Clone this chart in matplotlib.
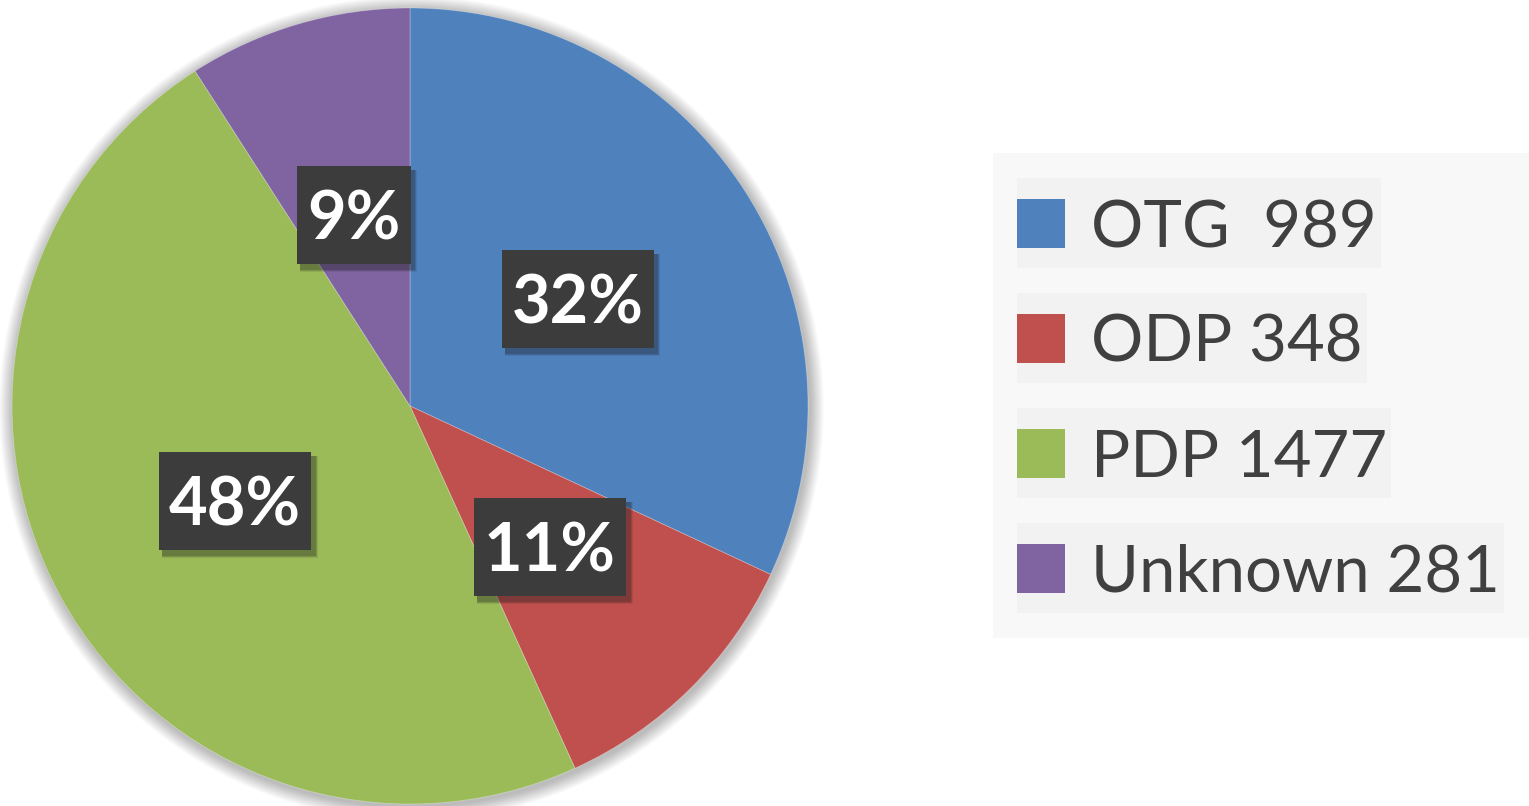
import matplotlib
matplotlib.use("Agg")
import matplotlib.pyplot as plt
from matplotlib.patches import Rectangle, Circle
from matplotlib.transforms import IdentityTransform

labels = ["OTG ", "ODP", "PDP", "Unknown"]
values = [989, 348, 1477, 281]
colors = ["#4F81BD", "#C0504D", "#9BBB59", "#8064A2"]

W, H = 1529, 806
fig = plt.figure(figsize=(W / 100, H / 100), dpi=100)
fig.patch.set_facecolor("white")
FONT = ["Lato", "DejaVu Sans"]

def fx(x):
    return x / W

def fy(y):
    return 1 - y / H

# pie axes: centre (410, 406), radius 398 px
cx, cy, r = 410, 406, 398
ax = fig.add_axes([fx(cx - r - 20), fy(cy + r + 20), (2 * r + 40) / W, (2 * r + 40) / H])
lim = 1 + 20 / r

# soft glow shadow behind the pie
for k in range(14, 0, -1):
    ax.add_patch(Circle((0.004, -0.006), 1 + k * 0.0016 * 1.6, facecolor="black",
                        alpha=0.018, edgecolor="none", zorder=0))

wedges, texts, autotexts = ax.pie(
    values, colors=colors, startangle=90, counterclock=False, radius=1,
    autopct=lambda p: f"{p:.0f}%", pctdistance=0.5,
    wedgeprops=dict(linewidth=0.6, edgecolor=(1, 1, 1, 0.3)),
    textprops=dict(color="white", fontsize=48, fontweight="bold", family=FONT),
)
ax.set_xlim(-lim, lim)
ax.set_ylim(-lim, lim)
ax.set_aspect("equal")
ax.axis("off")

fig.canvas.draw()
renderer = fig.canvas.get_renderer()
box_h = 98
cap_half = 24
for t in autotexts:
    x, y = t.get_position()
    px, py = ax.transData.transform((x, y))
    txt = t.get_text()
    t.set_visible(False)
    nt = fig.text(px, py - cap_half, txt, transform=IdentityTransform(), ha="center", va="baseline",
                  fontsize=48, fontweight="bold", color="white", family=FONT, zorder=10)
    bb = nt.get_window_extent(renderer)
    bw = bb.width + 20
    # blurred shadow
    for k, a in [(7, 0.10), (5, 0.15), (3, 0.2)]:
        fig.patches.append(Rectangle((px - bw / 2 + 3, py - box_h / 2 - 4 - k / 2), bw + k / 2, box_h + k / 2,
                                     transform=IdentityTransform(), facecolor="#1a1a1a", alpha=a,
                                     edgecolor="none", zorder=7))
    fig.patches.append(Rectangle((px - bw / 2, py - box_h / 2), bw, box_h,
                                 transform=IdentityTransform(), facecolor="#3c3c3c",
                                 edgecolor="none", zorder=8))

# legend
fig.patches.append(Rectangle((fx(993), fy(638)), (W - 993) / W, (638 - 153) / H,
                             transform=fig.transFigure, facecolor="#f8f8f8", edgecolor="none", zorder=0))
for i, (lab, val, col) in enumerate(zip(labels, values, colors)):
    yc = 223 + i * 115
    lt = fig.text(fx(1091), fy(yc + 24), f"{lab} {val}", ha="left", va="baseline", fontsize=47,
                  color="#404040", family=FONT, zorder=3)
    right = lt.get_window_extent(renderer).x1 + 4
    fig.patches.append(Rectangle((fx(1017), fy(yc + 45)), (right - 1017) / W, 90 / H,
                                 transform=fig.transFigure, facecolor="#f2f2f2", edgecolor="none", zorder=1))
    fig.patches.append(Rectangle((fx(1017), fy(yc + 25)), 48 / W, 49 / H,
                                 transform=fig.transFigure, facecolor=col, edgecolor="none", zorder=2))

fig.savefig("out.png", dpi=100)
